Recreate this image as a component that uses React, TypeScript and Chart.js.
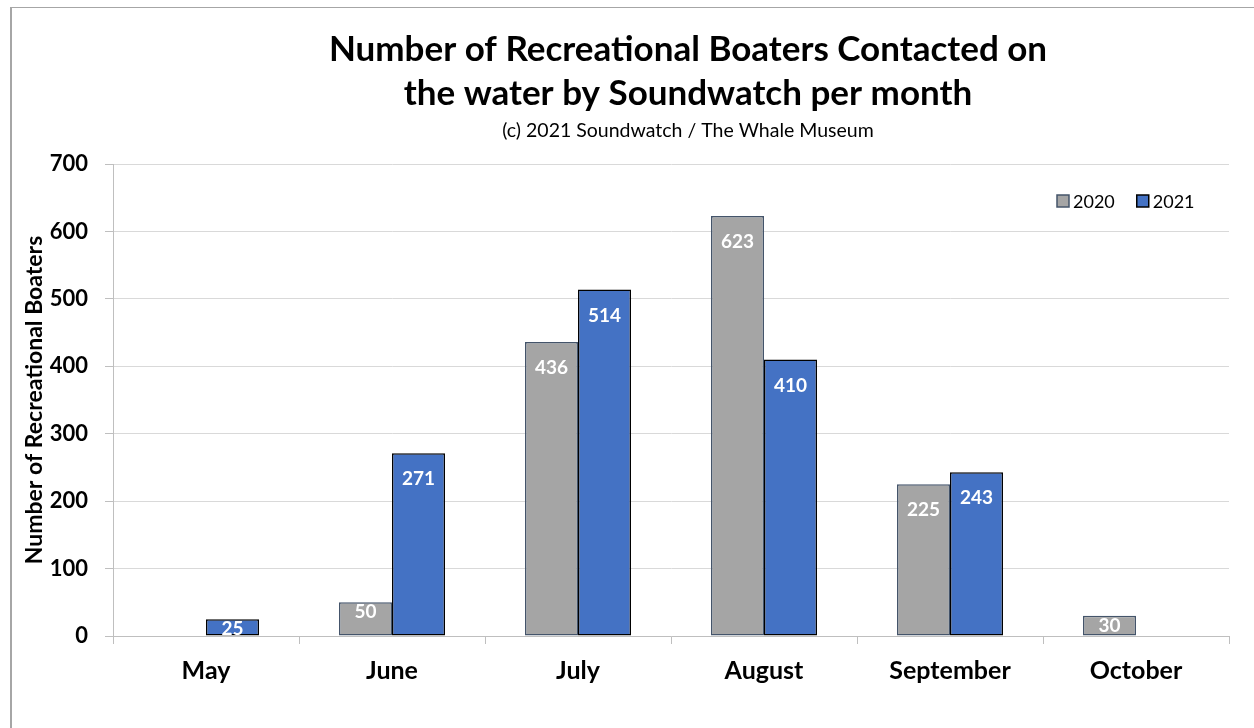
import React, { useEffect, useRef } from "react";
import { Chart, registerables } from "chart.js";

Chart.register(...registerables);

const months = ["May", "June", "July", "August", "September", "October"];
const values2020: (number | null)[] = [null, 50, 436, 623, 225, 30];
const values2021: (number | null)[] = [25, 271, 514, 410, 243, null];
const seriesLabels = ["2020", "2021"];
const titleLines = ["Number of Recreational Boaters Contacted on", "the water by Soundwatch per month"];
const subtitleText = "(c) 2021 Soundwatch / The Whale Museum";
const yAxisTitle = "Number of Recreational Boaters";

const FONT = "Lato, 'Noto Sans', sans-serif";
const GRAY = "#a5a5a5";
const GRAY_BORDER = "#44546a";
const BLUE = "#4472c4";
const BLUE_BORDER = "#000000";

const labelPlugin = {
  id: "valueLabels",
  afterDatasetsDraw(chart: any) {
    const ctx = chart.ctx;
    ctx.save();
    ctx.font = `bold 19px ${FONT}`;
    ctx.fillStyle = "#ffffff";
    ctx.textAlign = "center";
    ctx.textBaseline = "middle";
    chart.data.datasets.forEach((ds: any, di: number) => {
      const meta = chart.getDatasetMeta(di);
      meta.data.forEach((bar: any, i: number) => {
        const v = ds.data[i];
        if (v === null || v === undefined) return;
        const h = bar.base - bar.y;
        const y = h > 50 ? bar.y + 26 : bar.y + 10;
        ctx.fillText(String(v), bar.x, y);
      });
    });
    ctx.restore();
  },
};

const titlePlugin = {
  id: "customTitle",
  afterDraw(chart: any) {
    const ctx = chart.ctx;
    const area = chart.chartArea;
    const cx = (area.left + area.right) / 2 + 17;
    ctx.save();
    ctx.fillStyle = "#000";
    ctx.textAlign = "center";
    ctx.textBaseline = "middle";
    ctx.font = `bold 35px ${FONT}`;
    ctx.fillText(titleLines[0], cx, area.top - 114);
    ctx.fillText(titleLines[1], cx, area.top - 70);
    ctx.font = `19.5px ${FONT}`;
    ctx.fillText(subtitleText, cx, area.top - 33);
    ctx.restore();
  },
};

const legendPlugin = {
  id: "customLegend",
  afterDraw(chart: any) {
    const ctx = chart.ctx;
    const area = chart.chartArea;
    ctx.save();
    ctx.font = `18px ${FONT}`;
    ctx.textBaseline = "middle";
    ctx.textAlign = "left";
    let x = area.right - 172;
    const cy = area.top + 37;
    chart.data.datasets.forEach((ds: any) => {
      ctx.fillStyle = ds.backgroundColor;
      ctx.fillRect(x, cy - 6, 12, 12);
      ctx.strokeStyle = ds.borderColor;
      ctx.lineWidth = 1.5;
      ctx.strokeRect(x, cy - 6, 12, 12);
      ctx.fillStyle = "#000";
      ctx.fillText(ds.label, x + 16, cy + 1);
      x += 16 + ctx.measureText(ds.label).width + 22;
    });
    ctx.restore();
  },
};

export default function App() {
  const ref = useRef<HTMLCanvasElement | null>(null);
  useEffect(() => {
    if (!ref.current) return;
    const chart = new Chart(ref.current, {
      type: "bar",
      data: {
        labels: months,
        datasets: [
          {
            label: seriesLabels[0],
            data: values2020,
            backgroundColor: GRAY,
            borderColor: GRAY_BORDER,
            borderWidth: 1.5,
            borderSkipped: false,
          },
          {
            label: seriesLabels[1],
            data: values2021,
            backgroundColor: BLUE,
            borderColor: BLUE_BORDER,
            borderWidth: 1.5,
            borderSkipped: false,
          },
        ],
      },
      options: {
        responsive: true,
        maintainAspectRatio: false,
        animation: false,
        datasets: { bar: { categoryPercentage: 0.57, barPercentage: 1.0 } },
        layout: { padding: { left: 0, right: 25, bottom: 0, top: 156 } },
        plugins: {
          legend: { display: false },
          tooltip: { enabled: false },
          title: { display: false },
        },
        scales: {
          x: {
            grid: {
              display: true,
              drawOnChartArea: false,
              drawTicks: true,
              tickLength: 8,
              offset: true,
              color: "#bfbfbf",
            },
            border: { display: true, color: "#bfbfbf", width: 1 },
            ticks: {
              color: "#000",
              font: { family: FONT, size: 25, weight: "bold" },
              padding: 12,
            },
            afterFit(scale: any) {
              scale.height = 92;
            },
          },
          y: {
            min: 0,
            max: 700,
            ticks: {
              stepSize: 100,
              color: "#000",
              font: { family: FONT, size: 22, weight: "bold" },
              padding: 17,
            },
            grid: { color: "#d9d9d9", tickLength: 8, tickColor: "#bfbfbf" },
            border: { display: true, color: "#bfbfbf", width: 1 },
            title: {
              display: true,
              text: yAxisTitle,
              color: "#000",
              font: { family: FONT, size: 23, weight: "bold", lineHeight: 1.2 },
              padding: { top: 9, bottom: 0 },
            },
            afterFit(scale: any) {
              scale.width = 101;
            },
          },
        },
      },
      plugins: [labelPlugin, legendPlugin, titlePlugin],
    });
    return () => chart.destroy();
  }, []);

  return (
    <div
      style={{
        position: "fixed",
        left: 10,
        top: 7,
        width: 1244,
        height: 721,
        boxSizing: "border-box",
        borderLeft: "2px solid #a6a6a6",
        borderTop: "1px solid #a6a6a6",
        background: "#fff",
      }}
    >
      <div style={{ position: "relative", width: 1242, height: 720 }}>
        <canvas ref={ref} />
      </div>
    </div>
  );
}
